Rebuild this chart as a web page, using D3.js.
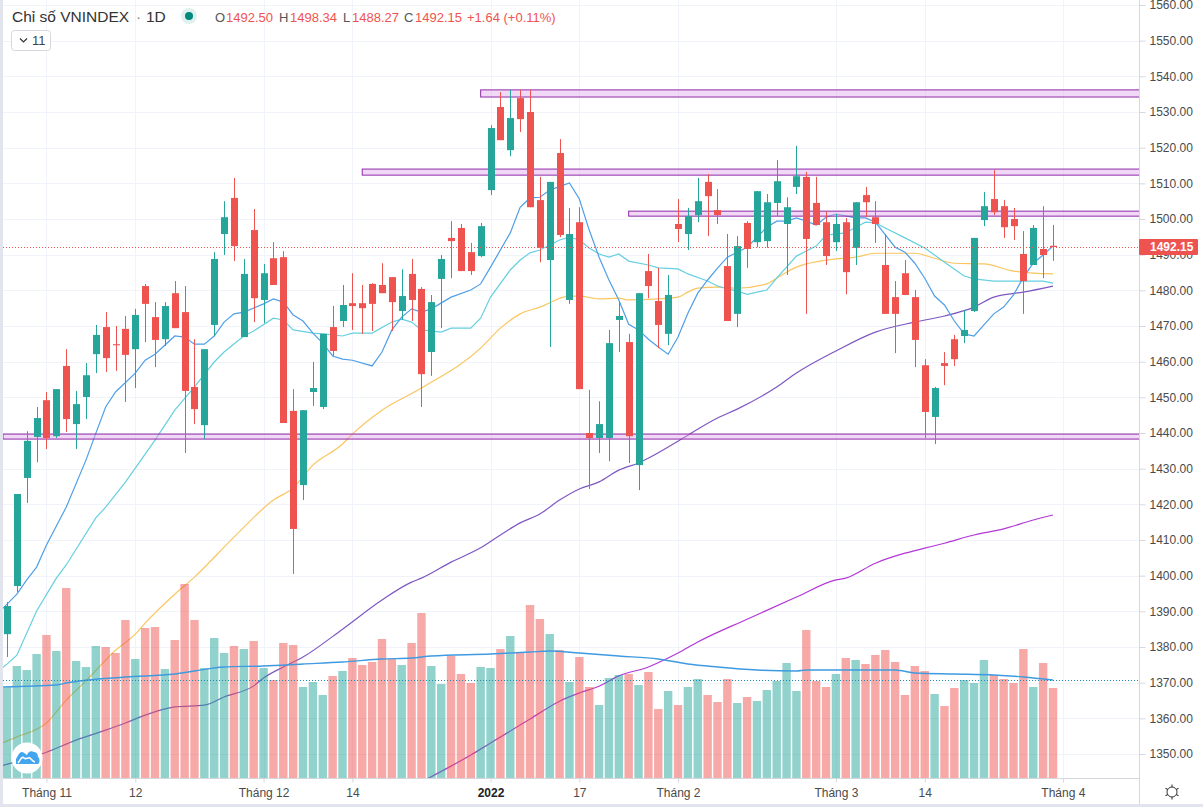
<!DOCTYPE html>
<html>
<head>
<meta charset="utf-8">
<script src="https://cdnjs.cloudflare.com/ajax/libs/d3/7.8.5/d3.min.js"></script>
<style>
  html, body { margin: 0; padding: 0; background: #fff; overflow: hidden; }
  text { font-family: "Liberation Sans", Arial, sans-serif; }
  .tick text { fill: #4a4a4a; font-size: 12px; }
</style>
</head>
<body>
<div id="chart"></div>
<script>
const opens = [
  1383.6,1397.1,1427.4,1438.9,1449.2,1439.1,1458.8,1442.5,1450.1,1462.1,
  1469.7,1464.9,1469.2,1463.5,1481.2,1472.5,1466.3,1479.2,1473.9,1452.9,
  1442.2,1470.3,1495.8,1505.9,1466.9,1496.9,1477.3,1489.0,1489.3,1446.2,
  1425.4,1451.5,1447.3,1469.7,1471.4,1476.4,1476.4,1481.8,1481.5,1483.7,
  1474.2,1484.6,1480.4,1462.7,1483.2,1494.7,1497.5,1490.7,1489.6,1508.1,
  1531.4,1519.3,1533.9,1530.0,1505.3,1488.5,1518.5,1477.3,1499.1,1440.0,
  1438.6,1438.6,1471.7,1465.5,1431.0,1485.4,1477.0,1467.8,1498.6,1495.8,
  1501.1,1510.4,1502.5,1486.8,1473.4,1498.9,1493.5,1493.8,1504.5,1498.6,
  1509.0,1511.8,1504.5,1499.1,1493.5,1499.1,1491.9,1506.7,1500.5,1487.1,
  1478.1,1484.8,1478.1,1459.0,1444.5,1459.6,1466.3,1467.2,1474.2,1499.7,
  1505.6,1503.6,1500.0,1490.2,1487.1,1491.6,1492.50];
const closes = [
  1391.5,1422.9,1437.8,1444.2,1438.6,1452.3,1443.9,1448.1,1456.2,1467.5,
  1461.0,1464.6,1461.9,1473.1,1476.2,1466.1,1475.6,1469.4,1451.8,1446.7,
  1463.5,1488.8,1500.5,1492.4,1484.6,1477.8,1484.8,1481.5,1442.8,1413.1,
  1446.4,1452.6,1467.8,1463.0,1475.9,1475.6,1475.0,1476.2,1479.2,1476.7,
  1478.4,1477.3,1456.5,1476.7,1488.8,1493.8,1485.4,1485.4,1498.0,1525.5,
  1522.1,1528.3,1528.0,1503.3,1491.9,1510.4,1495.5,1495.8,1452.3,1438.6,
  1442.5,1465.2,1472.8,1439.1,1479.2,1481.2,1470.3,1478.7,1497.2,1500.8,
  1505.0,1506.4,1501.1,1471.4,1492.4,1491.6,1507.8,1504.7,1510.6,1503.3,
  1512.0,1494.4,1498.3,1489.6,1498.6,1485.1,1504.7,1504.7,1498.6,1473.4,
  1473.4,1478.7,1466.1,1445.9,1452.6,1458.8,1460.7,1468.9,1494.7,1503.6,
  1501.9,1497.7,1498.0,1482.6,1497.5,1489.9,1492.15];
const highs = [
  1392.6,1422.9,1440.5,1447.3,1451.5,1452.3,1463.5,1451.8,1459.6,1470.3,
  1473.9,1470.0,1472.8,1474.8,1481.8,1476.7,1476.7,1482.6,1481.2,1466.3,
  1463.5,1490.7,1505.0,1511.5,1488.8,1502.8,1487.4,1493.5,1491.0,1452.3,
  1446.4,1459.9,1467.8,1475.6,1481.5,1484.8,1481.5,1482.0,1487.6,1483.7,
  1485.9,1488.8,1480.9,1478.7,1489.9,1499.4,1498.6,1493.3,1498.9,1526.3,
  1535.6,1536.2,1536.2,1536.2,1511.8,1510.4,1522.4,1503.1,1503.3,1452.1,
  1448.9,1468.9,1476.7,1467.8,1479.2,1490.2,1486.3,1484.3,1505.6,1503.1,
  1511.5,1512.6,1508.4,1495.8,1495.2,1499.4,1507.8,1507.0,1516.5,1506.1,
  1520.5,1513.2,1511.8,1502.2,1501.4,1500.3,1504.7,1509.0,1505.0,1495.8,
  1482.6,1488.5,1480.1,1460.7,1452.9,1462.7,1467.5,1474.5,1494.7,1507.6,
  1513.7,1505.3,1503.1,1496.6,1498.3,1503.6,1498.34];
const lows = [
  1377.2,1395.4,1420.4,1431.8,1435.5,1438.6,1440.3,1435.5,1443.9,1456.8,
  1457.1,1457.4,1448.7,1452.6,1465.5,1458.5,1464.4,1469.4,1434.4,1442.5,
  1438.3,1467.2,1489.9,1488.2,1466.9,1471.1,1470.8,1481.5,1442.8,1400.5,
  1421.2,1447.6,1446.7,1461.6,1469.7,1468.9,1467.8,1468.6,1479.2,1468.6,
  1471.7,1471.4,1447.3,1456.0,1469.4,1483.4,1485.4,1484.3,1489.3,1506.7,
  1522.1,1517.6,1524.4,1503.3,1487.9,1464.1,1494.9,1476.2,1452.3,1424.3,
  1434.4,1432.1,1462.7,1431.6,1424.0,1477.8,1463.8,1464.6,1493.5,1491.3,
  1499.1,1495.2,1498.6,1471.4,1469.7,1486.3,1492.1,1491.9,1500.8,1484.3,
  1507.0,1473.4,1498.3,1487.1,1491.0,1478.9,1487.1,1500.5,1493.3,1473.4,
  1462.4,1478.7,1458.5,1438.6,1436.9,1453.4,1458.8,1465.2,1473.9,1498.0,
  1501.1,1494.7,1494.1,1473.4,1487.1,1483.4,1488.27];
const volumes = [
  455,560,540,620,715,635,950,585,555,660,
  655,625,790,595,750,755,545,690,970,790,
  550,700,625,660,645,685,550,490,675,665,
  455,480,415,510,535,600,565,580,695,595,
  565,675,825,560,470,610,520,475,555,550,
  645,710,625,865,795,720,640,480,605,455,
  365,500,515,520,465,530,345,435,365,455,
  495,415,380,495,375,405,385,440,485,575,
  435,740,485,455,520,600,590,570,615,640,
  580,415,560,535,420,360,450,490,475,590,
  515,495,475,645,455,575,450];

// moving averages as [bar index, value]
const maBlue = [[-1,1389.2],[1,1394.8],[2,1398.8],[3,1402.4],[4,1408.6],[6,1419.2],[8,1432.4],[9,1439.9],[10,1447.3],[11,1451.5],[13,1456.8],[14,1460.4],[15,1462.1],[17,1467.2],[18,1466.9],[19,1464.9],[20,1464.9],[21,1467.2],[22,1471.1],[23,1473.4],[24,1473.9],[26,1476.2],[27,1477.6],[28,1476.7],[29,1473.1],[30,1471.4],[31,1468.0],[32,1465.2],[33,1461.6],[34,1460.7],[35,1460.4],[37,1458.8],[38,1462.7],[39,1468.9],[40,1472.5],[41,1474.8],[42,1473.9],[43,1474.8],[45,1478.1],[47,1480.1],[48,1481.8],[49,1486.5],[51,1496.1],[52,1503.3],[53,1505.9],[54,1506.1],[55,1508.1],[57,1510.1],[58,1505.6],[59,1496.9],[60,1489.3],[61,1482.9],[62,1477.3],[63,1470.5],[64,1468.9],[65,1466.3],[66,1464.1],[67,1462.1],[68,1466.9],[69,1473.6],[70,1479.2],[71,1482.9],[72,1486.2],[73,1489.3],[74,1490.7],[75,1492.1],[77,1497.7],[78,1499.4],[79,1499.4],[80,1500.3],[81,1499.4],[82,1498.3],[83,1500.5],[84,1501.4],[86,1500.3],[87,1500.3],[88,1499.1],[90,1492.1],[91,1490.7],[92,1487.6],[93,1483.4],[94,1478.4],[95,1475.9],[96,1471.4],[97,1467.8],[98,1467.2],[99,1470.3],[100,1473.4],[101,1475.3],[102,1478.7],[103,1483.7],[104,1487.6],[105,1489.9],[106,1492.4]];
const maCyan = [[-1,1373.0],[0,1375.2],[1,1377.7],[3,1390.1],[5,1399.3],[6,1403.0],[9,1416.2],[10,1419.2],[12,1426.2],[15,1438.0],[17,1446.4],[19,1452.9],[21,1459.9],[22,1462.7],[24,1467.2],[25,1468.6],[27,1472.2],[28,1471.7],[29,1468.9],[31,1468.0],[32,1467.8],[34,1467.2],[35,1468.0],[37,1468.0],[39,1471.1],[40,1471.9],[41,1471.1],[42,1468.9],[44,1468.3],[45,1469.4],[47,1469.4],[48,1472.2],[49,1478.1],[51,1485.7],[52,1488.5],[53,1490.5],[54,1491.3],[56,1494.1],[57,1494.9],[58,1494.1],[59,1491.9],[60,1490.2],[61,1489.3],[62,1490.2],[63,1488.2],[65,1487.1],[66,1486.3],[68,1486.0],[69,1484.6],[71,1482.6],[72,1481.2],[73,1480.4],[74,1479.8],[75,1478.9],[77,1480.1],[78,1483.4],[80,1489.6],[82,1492.4],[83,1495.5],[85,1496.1],[86,1497.7],[87,1499.1],[88,1498.9],[89,1497.5],[91,1494.7],[93,1491.9],[95,1487.9],[97,1484.0],[98,1483.2],[100,1482.6],[103,1482.6],[105,1482.6],[106,1482.0]];
const maOrange = [[-1,1352.5],[1,1354.8],[4,1358.7],[6,1365.1],[8,1370.5],[11,1379.1],[13,1383.6],[14,1386.7],[17,1394.8],[19,1399.6],[23,1410.8],[27,1421.2],[29,1424.6],[31,1431.0],[34,1436.9],[35,1439.7],[38,1446.4],[42,1452.6],[48,1463.8],[50,1469.4],[52,1473.4],[54,1475.3],[57,1478.4],[58,1478.4],[60,1477.6],[62,1477.8],[63,1477.3],[66,1477.6],[68,1478.1],[69,1479.5],[70,1480.6],[72,1480.9],[74,1480.6],[77,1481.8],[78,1483.4],[80,1486.5],[81,1487.4],[84,1488.8],[86,1489.3],[88,1490.4],[92,1490.4],[94,1489.0],[96,1487.6],[99,1487.4],[102,1485.4],[104,1484.8],[106,1484.6]];
const maPurple = [[-1,1346.4],[4,1350.5],[7,1353.9],[10,1356.7],[12,1358.7],[14,1360.9],[17,1363.2],[20,1363.7],[22,1366.0],[25,1369.1],[26,1371.3],[28,1374.4],[30,1377.2],[34,1385.0],[38,1393.2],[41,1398.2],[42,1399.3],[45,1403.8],[48,1407.8],[50,1411.4],[52,1414.8],[54,1417.3],[56,1421.2],[58,1424.3],[60,1426.3],[62,1429.6],[64,1431.6],[68,1437.7],[69,1439.4],[72,1444.2],[74,1446.7],[78,1452.9],[80,1456.8],[84,1463.0],[88,1468.3],[92,1471.1],[95,1472.8],[98,1475.3],[100,1478.1],[103,1479.5],[106,1481.2]];
const maMagenta = [[42,1342.2],[45,1346.6],[47,1349.7],[49,1353.1],[52,1358.1],[53,1359.8],[56,1364.8],[58,1367.1],[60,1369.0],[62,1371.9],[65,1374.4],[67,1376.9],[68,1378.3],[70,1381.4],[75,1387.8],[80,1394.0],[84,1398.8],[85,1399.3],[88,1403.5],[91,1406.3],[93,1407.7],[95,1409.1],[98,1411.4],[101,1413.1],[104,1415.6],[106,1417.0]];
const volMa = [[-1,455],[5,465],[6,475],[12,505],[17,520],[19,535],[22,555],[26,560],[30,570],[34,580],[38,595],[41,600],[43,610],[49,620],[53,630],[55,635],[58,625],[62,610],[66,595],[69,570],[72,555],[76,540],[80,535],[81,540],[90,540],[92,525],[96,520],[100,515],[103,505],[106,490]];

// support/resistance boxes: first bar, upper price, lower price
const zoneStart = [48, 36, 63, -1];
const zoneTop = [1536.2, 1514.0, 1502.2, 1439.7];
const zoneBottom = [1534.2, 1512.3, 1500.8, 1438.3];

const priceTicks = d3.range(1350, 1561, 10);
const timeTickBars = [4, 13, 26, 35, 49, 58, 68, 84, 93, 107];
const timeTickLabels = ["Tháng 11", "12", "Tháng 12", "14", "2022", "17", "Tháng 2", "Tháng 3", "14", "Tháng 4"];

const upColor = "#26a69a", downColor = "#ef5350";
const width = 1203, height = 807;
const paneLeft = 3, paneRight = 1139, paneBottom = 778;

const x = d3.scaleLinear().domain([0, 106]).range([7, 1053]);
const y = d3.scaleLinear().domain([1350, 1560]).range([754, 5]);
const yVol = d3.scaleLinear().domain([0, 1000]).range([paneBottom, 578]);
const bars = d3.range(opens.length);

const svg = d3.select("#chart").append("svg")
    .attr("width", width)
    .attr("height", height)
    .style("display", "block");

svg.append("defs").append("clipPath").attr("id", "pane")
  .append("rect")
    .attr("x", paneLeft).attr("y", 0)
    .attr("width", paneRight - paneLeft).attr("height", paneBottom);

// grid
const grid = svg.append("g").attr("stroke", "#f0f3fa");
grid.selectAll("line.h").data(priceTicks).join("line")
    .attr("class", "h")
    .attr("x1", paneLeft).attr("x2", paneRight)
    .attr("y1", d => Math.round(y(d)) + 0.5).attr("y2", d => Math.round(y(d)) + 0.5);
grid.selectAll("line.v").data(timeTickBars).join("line")
    .attr("class", "v")
    .attr("x1", d => Math.round(x(d)) + 0.5).attr("x2", d => Math.round(x(d)) + 0.5)
    .attr("y1", 0).attr("y2", paneBottom);

const pane = svg.append("g").attr("clip-path", "url(#pane)");

// moving averages go under the volume bars
const maLine = d3.line().x(d => x(d[0])).y(d => y(d[1]));
const maSmooth = d3.line().x(d => x(d[0])).y(d => y(d[1])).curve(d3.curveMonotoneX);
const maSeries = [
  [maMagenta, "#b338d6", maSmooth],
  [maPurple, "#7e57c2", maSmooth],
  [maOrange, "#fbc561", maSmooth],
  [maCyan, "#66cfe0", maLine],
  [maBlue, "#4f9fe8", maLine]
];
maSeries.forEach(([data, color, path]) => {
  pane.append("path")
      .datum(data)
      .attr("fill", "none")
      .attr("stroke", color)
      .attr("stroke-width", 1.2)
      .attr("d", path);
});

// volume
pane.selectAll("rect.vol").data(bars).join("rect")
    .attr("class", "vol")
    .attr("x", i => x(i) - 4.2)
    .attr("width", 8.4)
    .attr("y", i => yVol(volumes[i]))
    .attr("height", i => paneBottom - yVol(volumes[i]))
    .attr("fill", i => closes[i] >= opens[i] ? upColor : downColor)
    .attr("fill-opacity", 0.5);

pane.append("path")
    .datum(volMa)
    .attr("fill", "none")
    .attr("stroke", "#3f9ae0")
    .attr("stroke-width", 1.4)
    .attr("d", d3.line().x(d => x(d[0])).y(d => yVol(d[1])).curve(d3.curveMonotoneX));

// zones
pane.selectAll("rect.zone").data(zoneStart).join("rect")
    .attr("class", "zone")
    .attr("x", d => x(d) < paneLeft ? paneLeft : x(d))
    .attr("width", d => paneRight + 5 - (x(d) < paneLeft ? paneLeft : x(d)))
    .attr("y", (d, i) => y(zoneTop[i]))
    .attr("height", (d, i) => y(zoneBottom[i]) - y(zoneTop[i]))
    .attr("fill", "#e3a8ee")
    .attr("fill-opacity", 0.45)
    .attr("stroke", "#8e2aa5")
    .attr("stroke-width", 1);

// candles
const candle = pane.selectAll("g.candle").data(bars).join("g").attr("class", "candle");
candle.append("line")
    .attr("x1", i => Math.round(x(i)) + 0.5).attr("x2", i => Math.round(x(i)) + 0.5)
    .attr("y1", i => y(highs[i])).attr("y2", i => y(lows[i]))
    .attr("stroke", i => closes[i] >= opens[i] ? upColor : downColor);
candle.append("rect")
    .attr("x", i => Math.round(x(i)) - 3)
    .attr("width", 7)
    .attr("y", i => y(Math.max(opens[i], closes[i])))
    .attr("height", i => Math.max(1, Math.abs(y(opens[i]) - y(closes[i]))))
    .attr("fill", i => closes[i] >= opens[i] ? upColor : downColor);

// last value lines
const lastClose = closes[closes.length - 1];
svg.append("line")
    .attr("x1", paneLeft).attr("x2", paneRight)
    .attr("y1", Math.round(y(lastClose)) + 0.5).attr("y2", Math.round(y(lastClose)) + 0.5)
    .attr("stroke", downColor).attr("stroke-dasharray", "1 2");
const lastVolMa = volMa[volMa.length - 1][1];
svg.append("line")
    .attr("x1", paneLeft).attr("x2", paneRight)
    .attr("y1", Math.round(yVol(lastVolMa)) + 0.5).attr("y2", Math.round(yVol(lastVolMa)) + 0.5)
    .attr("stroke", "#1f8bb5").attr("stroke-dasharray", "1 2");

// axes
const yAxis = svg.append("g")
    .attr("transform", `translate(${paneRight + 0.5},0)`)
    .call(d3.axisRight(y).tickValues(priceTicks).tickFormat(d => d.toFixed(2)).tickSize(6).tickPadding(4));
yAxis.selectAll("line").attr("stroke", "#d6d8de");
yAxis.select(".domain").attr("stroke", "#d6d8de").attr("d", `M0,0V${height}`);

const xAxis = svg.append("g")
    .attr("transform", `translate(0,${paneBottom + 0.5})`)
    .call(d3.axisBottom(x).tickValues(timeTickBars).tickFormat((d, i) => timeTickLabels[i]).tickSize(4).tickPadding(6));
xAxis.selectAll("line").attr("stroke", "#d6d8de");
xAxis.select(".domain").attr("stroke", "#d6d8de").attr("d", `M${paneLeft},0H${paneRight}`);
xAxis.selectAll("text").filter(d => d === 49).style("font-weight", "bold").style("fill", "#222");

// last price tag
svg.append("rect")
    .attr("x", paneRight).attr("y", y(lastClose) - 8)
    .attr("width", 59).attr("height", 16)
    .attr("rx", 1)
    .attr("fill", downColor);
svg.append("text")
    .attr("x", paneRight + 11).attr("y", y(lastClose) + 4.5)
    .attr("fill", "#fff").attr("font-size", 12).attr("font-weight", "bold")
    .text(lastClose.toFixed(2));

// page edge strips
svg.append("rect").attr("x", 0).attr("y", 0).attr("width", paneLeft).attr("height", height).attr("fill", "#e3e5ee");
svg.append("rect").attr("x", 0).attr("y", 804).attr("width", width).attr("height", 3).attr("fill", "#e3e5ee");

// header
const header = svg.append("g").attr("font-size", 13);
header.append("text").attr("x", 12).attr("y", 22).attr("font-size", 15.5).attr("fill", "#333").text("Chỉ số VNINDEX");
header.append("text").attr("x", 136).attr("y", 22).attr("font-size", 15.5).attr("fill", "#888").text("·");
header.append("text").attr("x", 146).attr("y", 22).attr("font-size", 15.5).attr("fill", "#333").text("1D");
header.append("circle").attr("cx", 189).attr("cy", 16).attr("r", 8).attr("fill", "#dff1ef");
header.append("circle").attr("cx", 189).attr("cy", 16).attr("r", 4).attr("fill", "#00897b");
const ohlcLetters = ["O", "H", "L", "C"];
const ohlcLetterX = [215, 279, 343, 404];
const ohlcValues = [opens, highs, lows, closes].map(a => a[a.length - 1].toFixed(2));
const ohlcValueX = [226, 290, 352, 415];
ohlcLetters.forEach((l, i) => {
  header.append("text").attr("x", ohlcLetterX[i]).attr("y", 22).attr("fill", "#555").text(l);
  header.append("text").attr("x", ohlcValueX[i]).attr("y", 22).attr("fill", downColor).text(ohlcValues[i]);
});
header.append("text").attr("x", 467).attr("y", 22).attr("fill", downColor).text("+1.64 (+0.11%)");

// collapsed study list
svg.append("rect").attr("x", 11.5).attr("y", 30.5).attr("width", 39).attr("height", 20).attr("rx", 3)
    .attr("fill", "#fff").attr("stroke", "#d6d8de");
svg.append("path").attr("d", "M20,38.5l3.5,3.5l3.5,-3.5").attr("fill", "none").attr("stroke", "#333").attr("stroke-width", 1.2);
svg.append("text").attr("x", 32).attr("y", 45).attr("font-size", 13).attr("fill", "#444").text("11");

// logo badge
const logo = svg.append("g").attr("transform", "translate(27,758)");
logo.append("circle").attr("r", 15.5).attr("fill", "#fff");
logo.append("path")
    .attr("d", "M-11,1C-9,-2 -8,-6 -5,-6C-3,-6 -1,-3 0,-3C1,-6 4,-8 7,-6C10,-6 11,-3 11,-1C13,0 13,5 11,6L-11,6Z")
    .attr("fill", "#42a5ee");
logo.append("path")
    .attr("d", "M-9,5C-6,1 -5,-2 -3,0C-1,2 1,-1 3,0C5,2 6,4 8,4")
    .attr("fill", "none").attr("stroke", "#fff").attr("stroke-width", 1.6);

// settings gear
const gear = svg.append("g").attr("transform", "translate(1172,792)").attr("stroke", "#333").attr("fill", "none");
gear.append("circle").attr("r", 5);
d3.range(0, 360, 60).forEach(a => {
  gear.append("line").attr("x1", 0).attr("y1", -5).attr("x2", 0).attr("y2", -7.5).attr("transform", `rotate(${a})`);
});
</script>
</body>
</html>
